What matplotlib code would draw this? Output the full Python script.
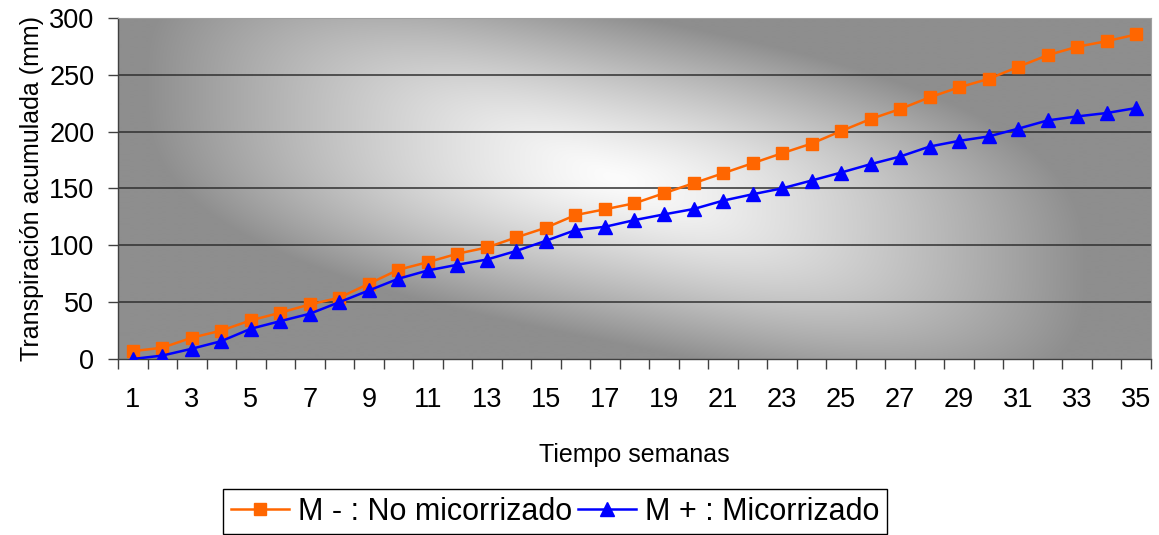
import numpy as np
import matplotlib
matplotlib.use('Agg')
import matplotlib.pyplot as plt
from matplotlib.ticker import FixedLocator, NullFormatter

plt.rcParams['font.family'] = ['Liberation Sans', 'DejaVu Sans']

# Semanas y transpiración acumulada (mm)
semanas = list(range(1, 36))
no_micorrizado = [6.9, 9.9, 18.7, 25, 34, 40.7, 48, 53.9, 66.2, 78.5, 85.2, 92.6,
                  98.1, 107, 115.5, 126.6, 131.7, 137, 145.8, 154.6, 163.4, 172.2,
                  181, 189.5, 200.5, 211.1, 219.9, 230.2, 239, 246.4, 257, 267.3,
                  274.7, 279.6, 285.5]
micorrizado = [0, 3, 9, 15.7, 26.6, 33.3, 39.8, 50, 60.3, 70.6, 77.9, 82.9,
               87.5, 95.1, 104, 113.4, 116.3, 122.2, 127.2, 131.9, 139.3, 144.9,
               150.1, 157, 164, 171.4, 178.1, 186.9, 191.9, 195.8, 202.6, 209.9,
               213.4, 216.4, 220.8]
yticks = [0, 50, 100, 150, 200, 250, 300]

fig = plt.figure(figsize=(11.59, 5.35), dpi=100)
ax = fig.add_axes([0.1018, 0.329, 0.8913, 0.6374])

# Fondo gris: degradado claro en el centro, algo inclinado hacia abajo a la derecha
W, H = 1033, 341
X, Y = np.meshgrid(np.arange(W), np.arange(H)[::-1])
dx = X - 497
yc = 180 - 0.2 * dx
h = np.abs(dx) / 470.0
v = np.abs(Y - yc) / 165.0
r = np.clip((h ** 3 + v ** 3) ** (1 / 3.0), 0, 1)
val = 252 - 110 * r ** 1.3
img = np.dstack([val, val, val]) / 255.0
ax.imshow(img, extent=[0, 1, 0, 1], transform=ax.transAxes, aspect='auto',
          zorder=0, interpolation='bilinear')

for yv in yticks[1:]:
    ax.axhline(yv, color='#303030', lw=1.1, zorder=1)

ax.plot(semanas, no_micorrizado, color='#FF6600', lw=1.8, marker='s', ms=8,
        mec='#FF6600', label='M - : No micorrizado', zorder=3)
ax.plot(semanas, micorrizado, color='#0000FF', lw=1.8, marker='^', ms=9.5,
        mec='#0000FF', label='M + : Micorrizado', zorder=3)

ax.set_xlim(0.5, 35.5)
ax.set_ylim(0, 300)
ax.set_yticks(yticks)
ax.set_xticks(semanas)
ax.set_xticklabels([str(s) if s % 2 == 1 else '' for s in semanas])
ax.xaxis.set_minor_locator(FixedLocator(np.arange(0.5, 36, 1)))
ax.xaxis.set_minor_formatter(NullFormatter())
ax.tick_params(axis='x', which='major', length=0, pad=20, labelsize=19.5)
ax.tick_params(axis='x', which='minor', length=7, width=1, color='#404040')
ax.tick_params(axis='y', length=7, width=1, color='#404040', labelsize=19.5, pad=10)

for s in ['top', 'right']:
    ax.spines[s].set_color('#a0a0a0')
    ax.spines[s].set_linewidth(0.8)
for s in ['left', 'bottom']:
    ax.spines[s].set_color('#404040')
    ax.spines[s].set_linewidth(1)

ax.set_xlabel('Tiempo semanas', fontsize=18, labelpad=22)
ax.set_ylabel('Transpiración acumulada (mm)', fontsize=18, labelpad=4)

leg = ax.legend(loc='upper center', bbox_to_anchor=(0.479, 0.086),
                bbox_transform=fig.transFigure, ncol=2, fontsize=22,
                frameon=True, fancybox=False, edgecolor='black', framealpha=1,
                handlelength=1.9, handletextpad=0.3, columnspacing=0.2,
                borderpad=0.25, borderaxespad=0)
leg.get_frame().set_linewidth(1)

fig.savefig('out.png', dpi=100)
